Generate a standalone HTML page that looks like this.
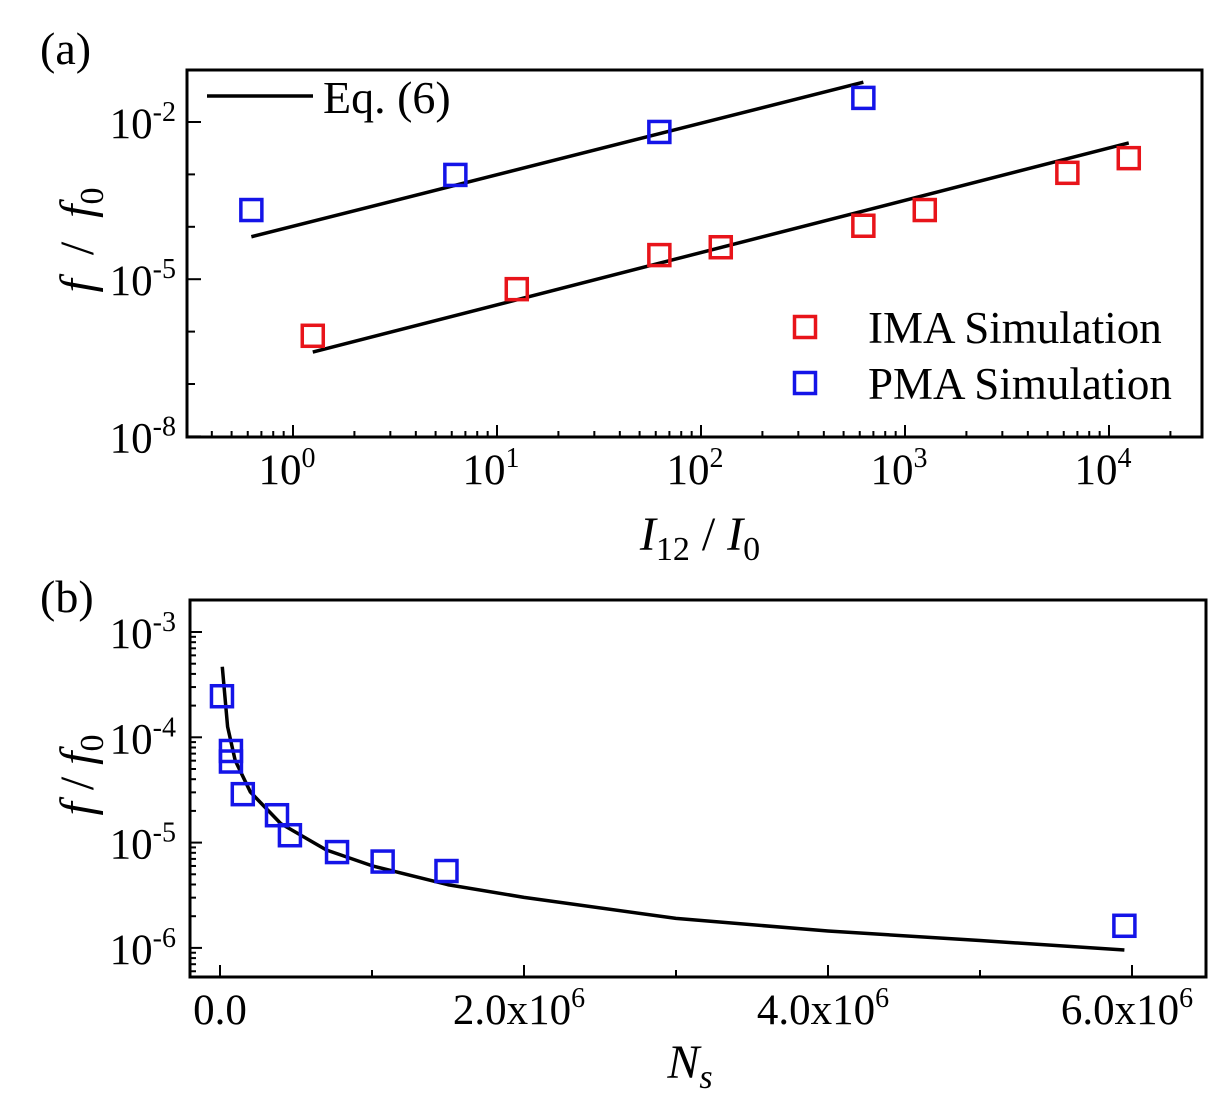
<!DOCTYPE html>
<html><head><meta charset="utf-8"><style>
body{margin:0;background:#fff}
svg{display:block;font-family:"Liberation Serif",serif}
</style></head><body>
<svg id="c" width="1229" height="1110" viewBox="0 0 1229 1110"></svg>
<script>
// Panel (a) data
const aRedX=[1.25,12.5,62.5,125,625,1250,6250,12500];
const aRedLogY=[-6.08,-5.19,-4.54,-4.39,-3.98,-3.68,-2.97,-2.69];
const aBlueX=[0.625,6.25,62.5,625];
const aBlueLogY=[-3.68,-3.01,-2.19,-1.54];
const aBlueLineX=[0.625,625];
const aBlueLineLogY=[-4.19,-1.24];
const aRedLineX=[1.25,12500];
const aRedLineLogY=[-6.39,-2.40];
const aXTicks=[0,1,2,3,4];
const aYTicks=[-2,-5,-8];
// Panel (b) data
const bNs=[0.013e6,0.072e6,0.072e6,0.15e6,0.375e6,0.46e6,0.77e6,1.07e6,1.49e6,5.95e6];
const bLogY=[-3.61,-4.13,-4.23,-4.54,-4.74,-4.93,-5.09,-5.18,-5.27,-5.79];
const bCurveNs=[0.015e6,0.05e6,0.1e6,0.2e6,0.4e6,0.7e6,1.0e6,1.5e6,2.0e6,3.0e6,4.0e6,5.0e6,5.95e6];
const bCurveLogY=[-3.33,-3.9,-4.22,-4.52,-4.82,-5.07,-5.22,-5.4,-5.52,-5.72,-5.84,-5.93,-6.02];
const bXTicks=[0,2e6,4e6,6e6];
const bXLabels=["0.0","2.0x10","4.0x10","6.0x10"];
const bYTicks=[-3,-4,-5,-6];

const NS="http://www.w3.org/2000/svg";
const svg=document.getElementById('c');
function el(t,a,p){const e=document.createElementNS(NS,t);for(const k in a)e.setAttribute(k,a[k]);(p||svg).appendChild(e);return e;}

const ax=v=>293+204*Math.log10(v);
const ay=l=>122-52.4*(l+2);
const bx=v=>220+152*v/1e6;
const by=l=>632-105.3*(l+3);
const FS=43, SUP=28;

// ---- Panel a ----
const ga=el('g',{});


const fa=el('rect',{x:187,y:70,width:1015,height:367,fill:'none',stroke:'#000','stroke-width':3},ga);


for(let d=-1;d<=4;d++){for(let m=1;m<=9;m++){const v=Math.pow(10,d)*m;const x=ax(v);if(x<188||x>1201)continue;const len=m===1?12:6;el('line',{x1:x,y1:437,x2:x,y2:437-len,stroke:'#000','stroke-width':2},ga);}}
aXTicks.forEach(t=>{const tx=el('text',{x:ax(Math.pow(10,t))-6,y:484,'font-size':FS,'text-anchor':'middle'},ga);tx.innerHTML='10<tspan dy="-17" font-size="'+SUP+'">'+t+'</tspan>';});
for(let l=-8;l<=-1;l++){const y=ay(l);if(y<71)continue;el('line',{x1:187,y1:y,x2:187+(aYTicks.includes(l)?14:8),y2:y,stroke:'#000','stroke-width':2},ga);}
aYTicks.forEach(t=>{const tx=el('text',{x:176,y:ay(t)+16,'font-size':FS,'text-anchor':'end'},ga);tx.innerHTML='10<tspan dy="-17" font-size="'+SUP+'">'+t+'</tspan>';});
[[aBlueLineX,aBlueLineLogY,'blue-fit-line'],[aRedLineX,aRedLineLogY,'red-fit-line']].forEach(([xs,ys,n])=>{const p=el('polyline',{points:xs.map((v,i)=>ax(v)+','+ay(ys[i])).join(' '),fill:'none',stroke:'#000','stroke-width':3.5},ga);});
function sq(g,x,y,c,n){const r=el('rect',{x:x-10.5,y:y-10.5,width:21,height:21,fill:'none',stroke:c,'stroke-width':3.5},g);}
aRedX.forEach((v,i)=>sq(ga,ax(v),ay(aRedLogY[i]),'#e8141a','ima-point'));
aBlueX.forEach((v,i)=>sq(ga,ax(v),ay(aBlueLogY[i]),'#1414e8','pma-point'));
el('line',{x1:207,y1:96,x2:313,y2:96,stroke:'#000','stroke-width':3.5},ga);
let t=el('text',{x:323,y:113,'font-size':46},ga);t.textContent='Eq. (6)';
sq(ga,805,327,'#e8141a','legend-ima-marker');
t=el('text',{x:868,y:343,'font-size':45},ga);t.textContent='IMA Simulation';
sq(ga,805,383,'#1414e8','legend-pma-marker');
t=el('text',{x:868,y:399,'font-size':45},ga);t.textContent='PMA Simulation';
t=el('text',{x:40,y:64,'font-size':46},ga);t.textContent='(a)';
t=el('text',{x:700,y:550,'font-size':48,'text-anchor':'middle','font-style':'italic'},ga);t.innerHTML='I<tspan font-style="normal" dy="10" font-size="34">12</tspan><tspan font-style="normal" dy="-10"> / </tspan>I<tspan font-style="normal" dy="10" font-size="34">0</tspan>';
t=el('text',{x:0,y:0,'font-size':48,'font-style':'italic','text-anchor':'middle',transform:'translate(93,240) rotate(-90)'},ga);t.innerHTML='f &#160;<tspan font-style="normal">/</tspan>&#160; f<tspan font-style="normal" dy="10" font-size="34">0</tspan>';

// ---- Panel b ----
const gb=el('g',{});


const fb=el('rect',{x:190,y:600,width:1016,height:377,fill:'none',stroke:'#000','stroke-width':3},gb);


for(let v=0;v<=6.5e6;v+=1e6){const x=bx(v);el('line',{x1:x,y1:977,x2:x,y2:977-(v%2e6===0?12:7),stroke:'#000','stroke-width':2},gb);}
bXTicks.forEach((v,i)=>{const tx=el('text',{x:bx(v)+(i?-5:0),y:1024,'font-size':FS,'text-anchor':'middle'},gb);tx.innerHTML=bXLabels[i]+(i?'<tspan dy="-17" font-size="'+SUP+'">6</tspan>':'');});
for(let l=-7;l<=-3;l++){for(let m=1;m<=9;m++){const y=by(l+Math.log10(m));if(y<601||y>976)continue;el('line',{x1:190,y1:y,x2:190+(m===1?12:6),y2:y,stroke:'#000','stroke-width':2},gb);}}
bYTicks.forEach(tk=>{const tx=el('text',{x:176,y:by(tk)+16,'font-size':FS,'text-anchor':'end'},gb);tx.innerHTML='10<tspan dy="-17" font-size="'+SUP+'">'+tk+'</tspan>';});
const cv=el('polyline',{points:bCurveNs.map((v,i)=>bx(v)+','+by(bCurveLogY[i])).join(' '),fill:'none',stroke:'#000','stroke-width':3.5,'stroke-linejoin':'round'},gb);


bNs.forEach((v,i)=>sq(gb,bx(v),by(bLogY[i]),'#1414e8','sim-point-b'));
t=el('text',{x:40,y:612,'font-size':46},gb);t.textContent='(b)';
t=el('text',{x:690,y:1078,'font-size':48,'font-style':'italic','text-anchor':'middle'},gb);t.innerHTML='N<tspan dy="10" font-size="34">s</tspan>';
t=el('text',{x:0,y:0,'font-size':48,'font-style':'italic','text-anchor':'middle',transform:'translate(93,775) rotate(-90)'},gb);t.innerHTML='f <tspan font-style="normal">/</tspan> f<tspan font-style="normal" dy="10" font-size="34">0</tspan>';
</script>
</body></html>
